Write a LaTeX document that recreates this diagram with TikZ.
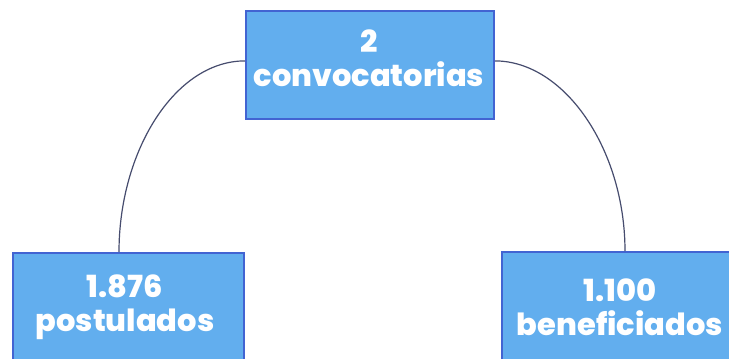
\documentclass[tikz,border=0pt]{standalone}
\usepackage{fontspec}
\newfontfamily\popfont{Poppins ExtraBold}
\definecolor{boxfill}{RGB}{98,174,238}
\definecolor{boxline}{RGB}{66,100,210}
\definecolor{linkcol}{RGB}{70,76,110}
\begin{document}
\begin{tikzpicture}[x=1pt,y=-1pt,
  databox/.style={draw=boxline,line width=1.8pt,fill=boxfill,inner sep=0pt,anchor=north west},
  boxtext/.style={text=white,font=\popfont\fontsize{30.5}{34}\selectfont,align=center,inner sep=0pt,anchor=center},
  link/.style={draw=linkcol,line width=1.2pt}]
\useasboundingbox (0,0) rectangle (729,359);
\clip (0,0) rectangle (729,359);
\fill[white] (0,0) rectangle (729,359);
\node[databox,minimum width=248pt,minimum height=108pt] (top) at (245,10) {};
\node[databox,minimum width=231pt,minimum height=130pt] (left) at (12,252) {};
\node[databox,minimum width=238pt,minimum height=130pt] (right) at (501,251) {};
\node[boxtext] (toptext) at (369,58) {2\\convocatorias};
\node[boxtext] (lefttext) at (125,307) {1.876\\postulados};
\node[boxtext] (righttext) at (620,307) {1.100\\beneficiados};
\coordinate (lstart) at ([yshift=4pt]top.west);
\coordinate (rstart) at ([yshift=4pt]top.east);
\coordinate (lend) at (left.north west -| 119,0);
\coordinate (rend) at (right.north west -| 625,0);
\draw[link] (lstart) .. controls +(-70,0) and +(0,-101) .. (lend);
\draw[link] (rstart) .. controls +(70,0) and +(0,-101) .. (rend);
\end{tikzpicture}
\end{document}
